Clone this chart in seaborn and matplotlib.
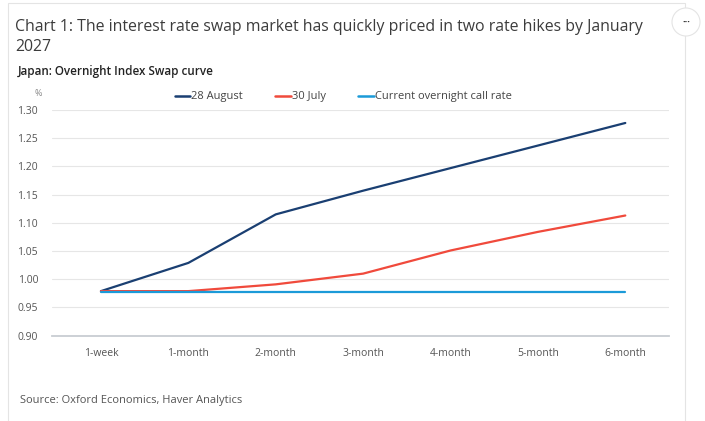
import pandas as pd
import numpy as np
import seaborn as sns
import matplotlib.pyplot as plt
from matplotlib.patches import Rectangle, Ellipse

# Veriler
tenors = ['1-week', '1-month', '2-month', '3-month', '4-month', '5-month', '6-month']
aug_28 = [0.979, 1.029, 1.115, 1.157, 1.197, 1.237, 1.277]
jul_30 = [0.979, 0.979, 0.991, 1.010, 1.051, 1.084, 1.113]
call_rate = [0.977, 0.977, 0.977, 0.977, 0.977, 0.977, 0.977]
series_names = ['28 August', '30 July', 'Current overnight call rate']
colors = ['#1a3f72', '#f04a3c', '#1b9ad8']

yticks = [0.90, 0.95, 1.00, 1.05, 1.10, 1.15, 1.20, 1.25, 1.30]

df = pd.DataFrame({'tenor': tenors * 3,
                   'value': aug_28 + jul_30 + call_rate,
                   'series': [s for s in series_names for _ in tenors]})

sns.set_style('white')
plt.rcParams['font.family'] = ['Open Sans', 'DejaVu Sans']
text_col = '#3c3c3c'

fig = plt.figure(figsize=(7.05, 4.21), dpi=100)
ax = fig.add_axes([52 / 705, 1 - 335.7 / 421, (669 - 52) / 705, (335.7 - 110) / 421])

sns.lineplot(data=df, x='tenor', y='value', hue='series', palette=colors,
             linewidth=1.6, ax=ax, sort=False, legend=False)

ax.set_xlim(-0.56, 6.5)
ax.set_ylim(0.90, 1.30)
ax.set_yticks(yticks)
ax.set_yticklabels([f'{v:.2f}' for v in yticks])
ax.set_xlabel('')
ax.set_ylabel('')
ax.grid(axis='y', color='#e6e6e6', linewidth=0.8)
ax.set_axisbelow(True)
for s in ['top', 'right', 'left']:
    ax.spines[s].set_visible(False)
ax.spines['bottom'].set_color('#c8cdd2')
ax.spines['bottom'].set_linewidth(1.3)
ax.tick_params(axis='both', length=0, labelsize=7.5, labelcolor='#555555')
ax.tick_params(axis='x', pad=9)
ax.tick_params(axis='y', pad=10)

# Lejant
handles = [plt.Line2D([], [], color=c, linewidth=1.8) for c in colors]
fig.legend(handles, series_names, loc='center', bbox_to_anchor=(0.487, 1 - 97 / 421),
           ncol=3, frameon=False, fontsize=8, handlelength=1.4, handletextpad=0.1,
           columnspacing=2.9, labelcolor='#444444')

# Başlıklar ve metinler
fig.text(15 / 705, 1 - 27 / 421, 'Chart 1: The interest rate swap market has quickly priced in two rate hikes by January',
         fontsize=11.4, color=text_col, va='center')
fig.text(15 / 705, 1 - 47 / 421, '2027', fontsize=11.4, color=text_col, va='center')
fig.text(18 / 705, 1 - 72 / 421, 'Japan: Overnight Index Swap curve', fontsize=8.4,
         color='#222222', va='center', fontweight='semibold')
fig.text(38 / 705, 1 - 93 / 421, '%', fontsize=6.5, color='#888888', va='center', ha='center')
fig.text(20 / 705, 1 - 400 / 421, 'Source: Oxford Economics, Haver Analytics', fontsize=8,
         color='#555555', va='center')

# Kart çerçevesi ve menü düğmesi
fig.patches.append(Rectangle((8 / 705, -0.1), (685 - 8) / 705, 1.1 - 3 / 421,
                             transform=fig.transFigure, fill=False,
                             edgecolor='#e4e4e4', linewidth=0.8))
fig.patches.append(Ellipse((686 / 705, 1 - 22 / 421), 28 / 705, 28 / 421, transform=fig.transFigure,
                           facecolor='white', edgecolor='#e4e4e4', linewidth=0.8))
fig.text(686 / 705, 1 - 22 / 421, '···', fontsize=7, color='#333333', ha='center', va='center',
         fontweight='bold')

fig.savefig('out.png', dpi=100)
